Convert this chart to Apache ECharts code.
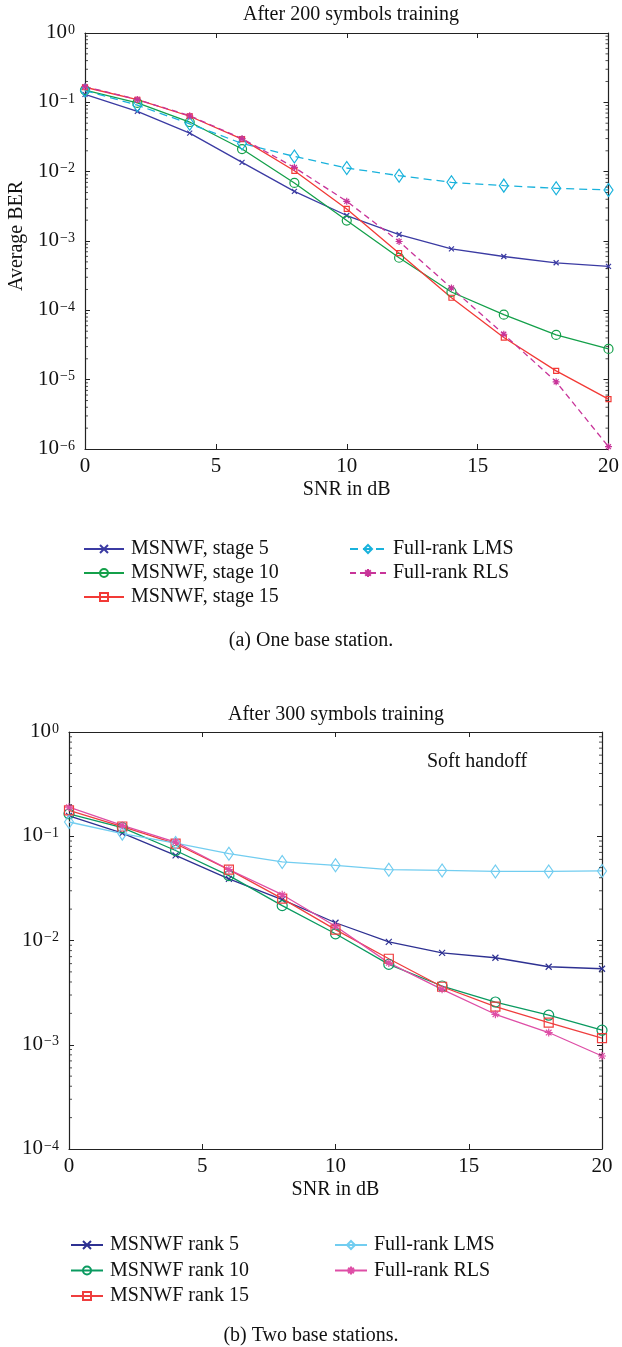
<!DOCTYPE html>
<html>
<head>
<meta charset="utf-8">
<script src="https://cdn.jsdelivr.net/npm/echarts@6/dist/echarts.min.js"></script>
<style>
html,body{margin:0;padding:0;background:#fff;}
#c{width:622px;height:1347px;}
</style>
</head>
<body>
<div id="c"></div>
<script>
// ---- data ----
const snr = [0, 2, 4, 6, 8, 10, 12, 14, 16, 18, 20];
// (a) One base station, after 200 symbols training
const stage5  = [0.130, 0.074, 0.036, 0.0136, 0.0052, 0.00233, 0.00124, 0.00077, 0.000598, 0.000485, 0.00043];
const stage10 = [0.150, 0.098, 0.052, 0.0212, 0.00687, 0.00197, 0.000573, 0.000184, 8.67e-5, 4.42e-5, 2.78e-5];
const stage15 = [0.165, 0.109, 0.063, 0.0295, 0.0103, 0.0029, 0.000668, 0.000152, 4.05e-5, 1.34e-5, 5.24e-6];
const lmsA    = [0.148, 0.091, 0.049, 0.0255, 0.0166, 0.0113, 0.00876, 0.00701, 0.00629, 0.00575, 0.00545];
const rlsA    = [0.168, 0.110, 0.064, 0.030, 0.0115, 0.00374, 0.000984, 0.00021, 4.52e-5, 9.3e-6, 1.08e-6];
// (b) Two base stations, after 300 symbols training
const rank5   = [0.157, 0.107, 0.0655, 0.039, 0.0247, 0.0148, 0.0097, 0.0076, 0.00683, 0.0056, 0.00536];
const rank10  = [0.164, 0.121, 0.073, 0.0419, 0.0216, 0.0116, 0.0059, 0.00366, 0.00257, 0.00192, 0.00138];
const rank15  = [0.177, 0.124, 0.0848, 0.0478, 0.0252, 0.0127, 0.00668, 0.0036, 0.00232, 0.00163, 0.00116];
const lmsB    = [0.137, 0.106, 0.086, 0.068, 0.0567, 0.0526, 0.0478, 0.047, 0.046, 0.046, 0.0465];
const rlsB    = [0.190, 0.127, 0.088, 0.048, 0.0275, 0.0137, 0.0061, 0.0034, 0.00196, 0.00131, 0.00078];

const namesA = ['MSNWF, stage 5', 'MSNWF, stage 10', 'MSNWF, stage 15', 'Full-rank LMS', 'Full-rank RLS'];
const namesB = ['MSNWF rank 5', 'MSNWF rank 10', 'MSNWF rank 15', 'Full-rank LMS ', 'Full-rank RLS '];
const xTicks = [0, 5, 10, 15, 20];
const titleA = 'After 200 symbols training';
const titleB = 'After 300 symbols training';
const captionA = '(a) One base station.';
const captionB = '(b) Two base stations.';
const yNameA = 'Average BER';
const note = 'Soft handoff';

// ---- styling ----
const FF = '"Liberation Serif", "Times New Roman", serif';
const CROSS = 'path://M0,0L10,10M10,0L0,10';
const STAR = 'path://M5,0L5,10M0,5L10,5M1.5,1.5L8.5,8.5M8.5,1.5L1.5,8.5';
const AX = '#222';

function pairs(ys) { return snr.map((x, i) => [x, ys[i]]); }

function mk(name, ys, color, symbol, size, dash, gi, width) {
  return {
    type: 'line', name: name, xAxisIndex: gi * 2, yAxisIndex: gi * 2,
    data: pairs(ys), symbol: symbol, symbolSize: size,
    lineStyle: { color: color, width: width || 1.3, type: dash || 'solid' },
    itemStyle: { color: 'rgba(0,0,0,0)', borderColor: color, borderWidth: 1.2 },
    emphasis: { disabled: true }, animation: false, z: 3
  };
}

// minor ticks (2..9 per decade) drawn at both vertical edges
function minorVals(lo, hi) {
  const out = [];
  for (let e = lo; e < hi; e++) for (let k = 2; k <= 9; k++) out.push(k * Math.pow(10, e));
  return out;
}
function minorSeries(gi, lo, hi) {
  const vals = minorVals(lo, hi);
  const mkS = (x, off) => ({
    type: 'scatter', xAxisIndex: gi * 2, yAxisIndex: gi * 2, silent: true, animation: false,
    data: vals.map(v => [x, v]), symbol: 'rect', symbolSize: [3, 1], symbolOffset: [off, 0],
    itemStyle: { color: AX }, z: 4, legendHoverLink: false, clip: false
  });
  return [mkS(0, 1.5), mkS(20, -1.5)];
}

function supFmt(v) {
  const e = Math.round(Math.log10(v));
  return '{b|10}{s|' + (e === 0 ? '0' : '\u2212' + (-e)) + '}';
}
const rich = {
  b: { fontSize: 21, fontFamily: FF, color: '#111', lineHeight: 20, verticalAlign: 'bottom' },
  s: { fontSize: 14, fontFamily: FF, color: '#111', lineHeight: 14, verticalAlign: 'top', padding: [0, 0, 0, 1] }
};

function xAxes(gi) {
  return [
    { type: 'value', gridIndex: gi, min: 0, max: 20, interval: 5, position: 'bottom',
      axisLine: { onZero: false, lineStyle: { color: AX, width: 1.2 } },
      axisTick: { inside: true, length: 5, lineStyle: { color: AX } },
      splitLine: { show: false },
      axisLabel: { fontSize: 21, fontFamily: FF, color: '#111', margin: 7 },
      name: 'SNR in dB', nameLocation: 'middle', nameGap: 31,
      nameTextStyle: { fontSize: 20, fontFamily: FF, color: '#111' } },
    { type: 'value', gridIndex: gi, min: 0, max: 20, interval: 5, position: 'top',
      axisLine: { onZero: false, lineStyle: { color: AX, width: 1.2 } },
      axisTick: { inside: true, length: 5, lineStyle: { color: AX } },
      splitLine: { show: false }, axisLabel: { show: false } }
  ];
}
function yAxes(gi, minV) {
  const base = {
    type: 'log', logBase: 10, gridIndex: gi, min: minV, max: 1, splitNumber: Math.round(-Math.log10(minV)),
    axisLine: { show: true, onZero: false, lineStyle: { color: AX, width: 1.2 } },
    axisTick: { inside: true, length: 5, lineStyle: { color: AX } },
    splitLine: { show: false }, minorTick: { show: false }
  };
  return [
    Object.assign({}, base, { position: 'left',
      axisLabel: { formatter: supFmt, rich: rich, margin: 10 } }),
    Object.assign({}, base, { position: 'right', axisLabel: { show: false } })
  ];
}

const C = {
  a: ['#3b3ba3', '#14a04a', '#f23a36', '#19b2dc', '#c83499'],
  b: ['#2e3192', '#0a9a60', '#ef3e3e', '#72cdf0', '#de4ea6']
};

const legendText = { fontSize: 20, fontFamily: FF, color: '#111', lineHeight: 20, padding: [0, 0, 0, 2] };

const option = {
  backgroundColor: '#fff',
  animation: false,
  grid: [
    { left: 85, top: 33, width: 532, height: 416 },
    { left: 69, top: 732, width: 533, height: 417 }
  ],
  xAxis: xAxes(0).concat(xAxes(1)),
  yAxis: yAxes(0, 1e-6).concat(yAxes(1, 1e-4)),
  legend: [
    { data: namesA.slice(0, 3), orient: 'vertical', left: 83, top: 539, padding: 0, itemWidth: 40, itemHeight: 10, itemGap: 4, textStyle: legendText, selectedMode: false },
    { data: namesA.slice(3), orient: 'vertical', left: 349, top: 539, padding: 0, itemWidth: 36, itemHeight: 10, itemGap: 4, textStyle: legendText, selectedMode: false },
    { data: namesB.slice(0, 3), orient: 'vertical', left: 70, top: 1235, padding: 0, itemWidth: 32, itemHeight: 10, itemGap: 5.5, textStyle: legendText, selectedMode: false },
    { data: namesB.slice(3), orient: 'vertical', left: 334, top: 1235, padding: 0, itemWidth: 32, itemHeight: 10, itemGap: 5.5, textStyle: legendText, selectedMode: false }
  ],
  series: [
    mk(namesA[0], stage5, C.a[0], CROSS, 5, null, 0),
    mk(namesA[1], stage10, C.a[1], 'circle', 9, null, 0),
    mk(namesA[2], stage15, C.a[2], 'rect', 5, null, 0),
    mk(namesA[3], lmsA, C.a[3], 'diamond', [9, 13], [8, 5], 0),
    mk(namesA[4], rlsA, C.a[4], STAR, 7, [6, 4], 0),
    mk(namesB[0], rank5, C.b[0], CROSS, 6, null, 1),
    mk(namesB[1], rank10, C.b[1], 'circle', 10, null, 1),
    mk(namesB[2], rank15, C.b[2], 'rect', 9, null, 1),
    mk(namesB[3], lmsB, C.b[3], 'diamond', [9, 13], null, 1),
    mk(namesB[4], rlsB, C.b[4], STAR, 8, null, 1)
  ].concat(minorSeries(0, -6, 0)).concat(minorSeries(1, -4, 0))
};

// text elements: titles, captions, y-name, annotation
option.graphic = [
  { type: 'text', x: 351, y: 15, style: { text: titleA, font: '20px ' + FF, fill: '#111', align: 'center', verticalAlign: 'middle' } },
  { type: 'text', x: 336, y: 715, style: { text: titleB, font: '20px ' + FF, fill: '#111', align: 'center', verticalAlign: 'middle' } },
  { type: 'text', x: 311, y: 641, style: { text: captionA, font: '20px ' + FF, fill: '#111', align: 'center', verticalAlign: 'middle' } },
  { type: 'text', x: 311, y: 1336, style: { text: captionB, font: '20px ' + FF, fill: '#111', align: 'center', verticalAlign: 'middle' } },
  { type: 'text', x: 17, y: 236, rotation: Math.PI / 2, style: { text: yNameA, font: '20px ' + FF, fill: '#111', align: 'center', verticalAlign: 'middle' } },
  { type: 'text', x: 427, y: 762, style: { text: note, font: '20px ' + FF, fill: '#111', align: 'left', verticalAlign: 'middle' } }
];

const chart = echarts.init(document.getElementById('c'), null, { renderer: 'canvas' });
chart.setOption(option);
</script>
</body>
</html>
